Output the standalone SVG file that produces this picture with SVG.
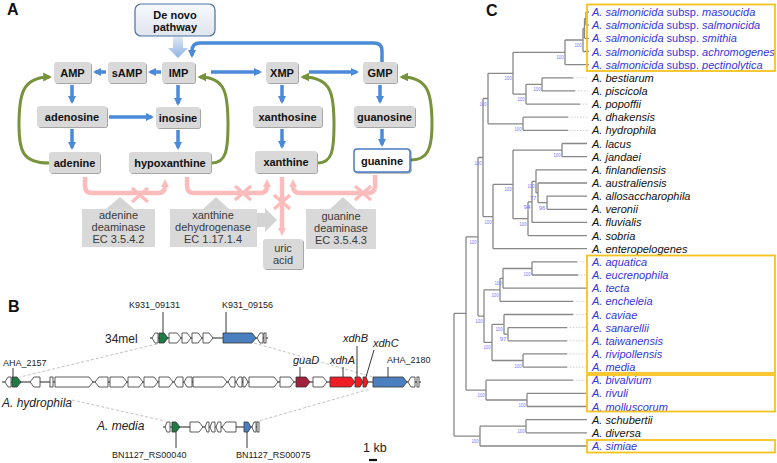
<svg xmlns="http://www.w3.org/2000/svg" width="777" height="463" viewBox="0 0 777 463">
<defs>
<style>
.pb{fill:#d9d9d9;filter:url(#sh)}
.pt{font:bold 11px "Liberation Sans",Arial,sans-serif;text-anchor:middle;fill:#111}
.et{font:11px "Liberation Sans",Arial,sans-serif;text-anchor:middle;fill:#3a3a3a}
.eb{fill:#d9d9d9}
.ea{fill:#d4d4d4}
.ba{stroke:#4a8ad8;stroke-width:3.5;fill:none;marker-end:url(#ab)}
.ga{stroke:#77933c;stroke-width:3;fill:none;marker-end:url(#ag)}
.pa{stroke:#fdbcbc;stroke-width:4.5;fill:none;marker-end:url(#ap)}
.px{stroke:#fdbcbc;stroke-width:3.5;fill:none}
.gn{stroke:#333;stroke-width:0.8;fill:#fff}
.gg{fill:#1f7a45}
.gb{fill:#4a7fc0}
.gd{fill:#a3213a}
.gr{fill:#f01c24}
.bb{stroke:#222;stroke-width:1;fill:none}
.ll{stroke:#222;stroke-width:0.9;fill:none}
.dl{stroke:#bbb;stroke-width:0.9;stroke-dasharray:3 2;fill:none}
.gl{font:9px "Liberation Sans",Arial,sans-serif;fill:#222}
.gi{font:italic 11px "Liberation Sans",Arial,sans-serif;fill:#222}
.tr{stroke:#888;stroke-width:1.3;fill:none}
.td{stroke:#d0d0d0;stroke-width:1;stroke-dasharray:1.5 1.5;fill:none}
.bs{font:6px "Liberation Sans",Arial,sans-serif;fill:#7777ff;text-anchor:middle}
.lf{font:italic 11px "Liberation Sans",Arial,sans-serif;fill:#111}
.lb{fill:#3535d8}
.nu{font-style:normal}
.yb{fill:none;stroke:#f8c21c;stroke-width:1.8}
.pl{font:bold 16px "Liberation Sans",Arial,sans-serif;fill:#111}
</style>
<filter id="sh" x="-10%" y="-10%" width="130%" height="140%"><feDropShadow dx="1" dy="1" stdDeviation="0.7" flood-color="#000" flood-opacity="0.35"/></filter>
<linearGradient id="dn" x1="0" y1="0" x2="0" y2="1"><stop offset="0" stop-color="#f7f9fc"/><stop offset="1" stop-color="#dfe5ee"/></linearGradient>
<linearGradient id="da" x1="0" y1="0" x2="0" y2="1"><stop offset="0" stop-color="#dfe8f5"/><stop offset="1" stop-color="#8fb2e0"/></linearGradient>
<marker id="ab" viewBox="0 0 10 10" refX="7" refY="5" markerWidth="8" markerHeight="9" orient="auto" markerUnits="userSpaceOnUse"><path d="M0 0L10 5L0 10z" fill="#4a8ad8"/></marker>
<marker id="ag" viewBox="0 0 10 10" refX="7" refY="5" markerWidth="9" markerHeight="10" orient="auto" markerUnits="userSpaceOnUse"><path d="M0 0L10 5L0 10z" fill="#77933c"/></marker>
<marker id="ap" viewBox="0 0 10 10" refX="5" refY="5" markerWidth="8" markerHeight="9" orient="auto" markerUnits="userSpaceOnUse"><path d="M0 0L10 5L0 10z" fill="#fdbcbc"/></marker>
</defs>
<rect width="777" height="463" fill="#fff"/>

<!-- Panel A -->
<text class="pl" x="7" y="15">A</text>
<g id="connectors-A">
<path d="M173 37H183V48H188L178 58L168 48H173z" fill="url(#da)"/>
<path class="ba" d="M161 72H150.4"/>
<path class="ba" d="M106 72H95.4"/>
<path class="ba" d="M72 85V101.6"/>
<path class="ba" d="M178 85V103.6"/>
<path class="ba" d="M109 117H151.6"/>
<path class="ba" d="M72 129V147.6"/>
<path class="ba" d="M178 130V147.6"/>
<path class="ba" d="M211 72H259.6"/>
<path class="ba" d="M309 72H356.6"/>
<path class="ba" d="M282 85V101.6"/>
<path class="ba" d="M380 85V101.6"/>
<path class="ba" d="M282 129V146.6"/>
<path class="ba" d="M382 129V144.6"/>
<path class="ba" d="M382 62V51Q382 43 374 43H200Q192 43 192 51V55.6"/>
<path class="ga" d="M49 163C22 163 19 150 19 125C19 95 22 77 49.5 77"/>
<path class="ga" d="M212 163C226 163 228 150 228 125C228 95 226 77 200 77"/>
<path class="ga" d="M318 163C332 163 334 150 334 125C334 95 332 77 303 77"/>
<path class="ga" d="M411 160C428 160 432 148 432 125C432 95 429 77 402 77"/>
<path class="pa" d="M85 177V186Q85 193 92 193H158Q165 193 165 186V183"/>
<path class="pa" d="M187 177V186Q187 193 194 193H260Q267 193 267 186V183"/>
<path class="pa" d="M375 175V186Q375 193 368 193H300Q293 193 293 186V183"/>
<path class="pa" d="M282 177V232"/>
<path class="px" d="M132 188L148 202M148 188L132 202"/>
<path class="px" d="M235 186L251 200M251 186L235 200"/>
<path class="px" d="M355 186L371 200M371 186L355 200"/>
<path class="px" d="M274 195L290 209M290 195L274 209"/>
<polygon class="ea" points="106,209 120,197 134,209"/>
<polygon class="ea" points="203,209 216,197 229,209"/>
<polygon class="ea" points="330,209 343,197 356,209"/>
<polygon class="ea" points="257,213 265,213 265,208 277,220 265,232 265,227 257,227"/>
</g>
<g id="n-denovo"><rect x="135" y="4" width="80" height="32" rx="6" fill="url(#dn)" stroke="#4a6fa5" stroke-width="1.2"/><text class="pt" x="175" y="18.5">De novo</text><text class="pt" x="175" y="30.5">pathway</text></g>
<g id="n-AMP"><rect class="pb" x="54" y="62" width="37" height="21" rx="3"/><text class="pt" x="72.5" y="76.5">AMP</text></g>
<g id="n-sAMP"><rect class="pb" x="108" y="62" width="38" height="21" rx="3"/><text class="pt" x="127" y="76.5">sAMP</text></g>
<g id="n-IMP"><rect class="pb" x="162" y="62" width="33" height="21" rx="3"/><text class="pt" x="178.5" y="76.5">IMP</text></g>
<g id="n-XMP"><rect class="pb" x="266" y="62" width="32" height="21" rx="3"/><text class="pt" x="282" y="76.5">XMP</text></g>
<g id="n-GMP"><rect class="pb" x="363" y="62" width="34" height="21" rx="3"/><text class="pt" x="380" y="76.5">GMP</text></g>
<g id="n-adenosine"><rect class="pb" x="37" y="106" width="70" height="21" rx="3"/><text class="pt" x="72" y="120.5">adenosine</text></g>
<g id="n-inosine"><rect class="pb" x="156" y="107" width="44" height="21" rx="3"/><text class="pt" x="178" y="121.5">inosine</text></g>
<g id="n-xanthosine"><rect class="pb" x="253" y="106" width="69" height="21" rx="3"/><text class="pt" x="287.5" y="120.5">xanthosine</text></g>
<g id="n-guanosine"><rect class="pb" x="354" y="106" width="61" height="21" rx="3"/><text class="pt" x="384.5" y="120.5">guanosine</text></g>
<g id="n-adenine"><rect class="pb" x="49" y="152" width="51" height="21" rx="3"/><text class="pt" x="74.5" y="166.5">adenine</text></g>
<g id="n-hypoxanthine"><rect class="pb" x="129" y="152" width="82" height="21" rx="3"/><text class="pt" x="170" y="166.5">hypoxanthine</text></g>
<g id="n-xanthine"><rect class="pb" x="255" y="151" width="62" height="22" rx="3"/><text class="pt" x="286" y="166">xanthine</text></g>
<g id="n-guanine"><rect x="354" y="149" width="56" height="23" rx="3" fill="#fff" stroke="#4a7bc0" stroke-width="1.5" filter="url(#sh)"/><text class="pt" x="382" y="164.5">guanine</text></g>
<g id="n-ada"><rect class="eb" x="82" y="209" width="73" height="38"/><text class="et" x="118.5" y="219">adenine</text><text class="et" x="118.5" y="231">deaminase</text><text class="et" x="118.5" y="243">EC 3.5.4.2</text></g>
<g id="n-xdh"><rect class="eb" x="170" y="209" width="87" height="38"/><text class="et" x="213" y="219">xanthine</text><text class="et" x="213" y="231">dehydrogenase</text><text class="et" x="213" y="243">EC 1.17.1.4</text></g>
<g id="n-gda"><rect class="eb" x="306" y="209" width="70" height="40"/><text class="et" x="341" y="219.5">guanine</text><text class="et" x="341" y="231.5">deaminase</text><text class="et" x="341" y="243.5">EC 3.5.4.3</text></g>
<g id="n-uric"><rect x="263" y="239" width="40" height="30" rx="3" fill="#d9d9d9" filter="url(#sh)"/><text class="et" x="283" y="252">uric</text><text class="et" x="283" y="264">acid</text></g>

<!-- Panel B -->
<text class="pl" x="8" y="312">B</text>
<g id="connectors-B">
<path class="dl" d="M157 344L20 377M254 343L373 377M72 400L165 421M255 422L370 389"/>
<path class="ll" d="M163 312V333M226 312V333M13 368V377M300 367V377M343 367V377M357 346V377M374 350L366 377M388 367V377M176 432V448M247 432V448"/>
<path d="M369 460H377" stroke="#111" stroke-width="2.2"/>
</g>
<g id="row-34mel">
<path class="bb" d="M150 338H268"/>
<polygon class="gn" points="158,333 155,333 152,338 155,343 158,343"/>
<polygon class="gn gg" points="159,333 164,333 168,338 164,343 159,343"/>
<polygon class="gn" points="169,333 177,333 181,338 177,343 169,343"/>
<polygon class="gn" points="182,333 187,333 191,338 187,343 182,343"/>
<polygon class="gn" points="192,333 198,333 202,338 198,343 192,343"/>
<polygon class="gn" points="203,333 209,333 213,338 209,343 203,343"/>
<polygon class="gn gb" points="223,333 252,333 256,338 252,343 223,343"/>
<polygon class="gn" points="263,333 260,333 257,338 260,343 263,343"/>
<rect class="gn" x="264" y="333" width="2" height="10"/>
<text class="gl" x="129" y="308">K931_09131</text>
<text class="gl" x="222" y="308">K931_09156</text>
<text x="105" y="343" style="font:12px 'Liberation Sans',Arial,sans-serif;fill:#222">34mel</text>
</g>
<g id="row-hydrophila">
<path class="bb" d="M2 382H421"/>
<polygon class="gn" points="11,377 8,377 5,382 8,387 11,387"/>
<polygon class="gn gg" points="12,377 17,377 21,382 17,387 12,387"/>
<polygon class="gn" points="40,377 34,377 30,382 34,387 40,387"/>
<rect class="gn" x="50" y="377" width="3" height="10"/>
<polygon class="gn" points="55,377 89,377 93,382 89,387 55,387"/>
<polygon class="gn" points="108,377 99,377 95,382 99,387 108,387"/>
<polygon class="gn" points="110,377 123,377 127,382 123,387 110,387"/>
<polygon class="gn" points="128,377 139,377 143,382 139,387 128,387"/>
<polygon class="gn" points="144,377 154,377 158,382 154,387 144,387"/>
<polygon class="gn" points="159,377 169,377 173,382 169,387 159,387"/>
<polygon class="gn" points="183,377 177,377 174,382 177,387 183,387"/>
<polygon class="gn" points="192,377 187,377 184,382 187,387 192,387"/>
<polygon class="gn" points="193,377 223,377 227,382 223,387 193,387"/>
<polygon class="gn" points="235,377 231,377 228,382 231,387 235,387"/>
<polygon class="gn" points="242,377 239,377 236,382 239,387 242,387"/>
<polygon class="gn" points="243,377 245,377 248,382 245,387 243,387"/>
<polygon class="gn" points="249,377 274,377 278,382 274,387 249,387"/>
<polygon class="gn" points="280,377 290,377 294,382 290,387 280,387"/>
<polygon class="gn gd" points="296,377 306,377 310,382 306,387 296,387"/>
<polygon class="gn" points="313,377 323,377 327,382 323,387 313,387"/>
<polygon class="gn gr" points="330,377 351,377 355,382 351,387 330,387"/>
<polygon class="gn gr" points="355,377 360,377 363,382 360,387 355,387"/>
<polygon class="gn gr" points="363,377 366,377 368,382 366,387 363,387"/>
<polygon class="gn gb" points="373,377 403,377 407,382 403,387 373,387"/>
<polygon class="gn" points="415,377 411,377 408,382 411,387 415,387"/>
<rect class="gn" x="417" y="377" width="2" height="10"/>
<text class="gl" x="3" y="366">AHA_2157</text>
<text class="gi" x="293" y="364">guaD</text>
<text class="gi" x="330" y="364">xdhA</text>
<text class="gi" x="343" y="342">xdhB</text>
<text class="gi" x="373" y="347">xdhC</text>
<text class="gl" x="387" y="363">AHA_2180</text>
<text x="2" y="407" style="font:italic 12px 'Liberation Sans',Arial,sans-serif;fill:#222">A. hydrophila</text>
</g>
<g id="row-media">
<path class="bb" d="M163 427H259"/>
<polygon class="gn" points="170,422 167,422 165,427 167,432 170,432"/>
<polygon class="gn gg" points="172,422 176,422 180,427 176,432 172,432"/>
<polygon class="gn" points="190,422 199,422 203,427 199,432 190,432"/>
<polygon class="gn" points="209,422 207,422 205,427 207,432 209,432"/>
<polygon class="gn" points="215,422 212,422 210,427 212,432 215,432"/>
<polygon class="gn" points="221,422 218,422 216,427 218,432 221,432"/>
<polygon class="gn" points="236,422 226,422 222,427 226,432 236,432"/>
<polygon class="gn gb" points="244,422 248,422 251,427 248,432 244,432"/>
<polygon class="gn" points="256,422 254,422 252,427 254,432 256,432"/>
<rect class="gn" x="257" y="422" width="2" height="10"/>
<text x="97" y="430" style="font:italic 12px 'Liberation Sans',Arial,sans-serif;fill:#222">A. media</text>
<text class="gl" x="112" y="458">BN1127_RS00040</text>
<text class="gl" x="236" y="458">BN1127_RS00075</text>
<text x="363" y="452" style="font:12.5px 'Liberation Sans',Arial,sans-serif;fill:#222">1 kb</text>
</g>

<!-- Panel C -->
<text class="pl" x="486" y="16">C</text>
<g id="tree">
<path class="td" d="M573 77.8H588M575 90.9H588M580 104.1H588M568 117.2H588M568 130.4H588M577 261.9H588M578 275H588M573 301.3H588M573 314.5H588M567 327.6H588M567 340.8H588M567 353.9H588M567 367.1H588M573 380.2H588"/>
<path class="tr" d="M586 12H589M586 25.2H589M584.5 38.3H589M583 51.5H589M565 64.6H589M542 77.8H573M542 90.9H575M526 104.1H580M523 117.2H568M523 130.4H568M562 143.5H587M562 156.7H587M536 169.8H587M538 183H587M547 196.1H587M547 209.3H587M532 222.4H587M528 235.6H587M493 248.7H587M532 261.9H577M532 275H578M503 288.2H587M500 301.3H573M504 314.5H573M508 327.6H567M508 340.8H567M523 353.9H567M523 367.1H567M486 380.2H573M527 393.4H587M527 406.5H587M526 419.7H587M526 432.8H587M480 446H587"/>
<path class="tr" d="M586 12V25.2M584.5 18.6H586M584.5 18.6V38.3M583 28.5H584.5M583 28.5V51.5M565 40H583M565 40V64.6M513 52.3H565M542 77.8V90.9M526 84.3H542M526 84.3V104.1M513 94.2H526M513 52.3V94.2M488 73.3H513M523 117.2V130.4M488 123.8H523M488 73.3V123.8M483 98.5H488M562 143.5V156.7M513 150.1H562M547 196.1V209.3M538 202.7H547M538 183V202.7M536 192.9H538M536 169.8V192.9M532 181.3H536M532 181.3V222.4M528 201.9H532M528 201.9V235.6M513 218.7H528M513 150.1V218.7M493 184.4H513M493 184.4V248.7M483 216.6H493M483 98.5V216.6M478 157.5H483M532 261.9V275M503 268.5H532M503 268.5V288.2M500 278.3H503M500 278.3V301.3M484 289.8H500M508 327.6V340.8M504 334.2H508M504 314.5V334.2M492 324.3H504M523 353.9V367.1M492 360.5H523M492 324.3V360.5M484 342.4H492M484 289.8V342.4M478 316.1H484M478 157.5V316.1M466 236.8H478M527 393.4V406.5M486 400H527M486 380.2V400M466 390.1H486M466 236.8V390.1M454 313.4H466M526 419.7V432.8M480 426.2H526M480 426.2V446M454 436.1H480M454 313.4V436.1"/>
<g class="bs">
<text x="578" y="47" textLength="7" lengthAdjust="spacingAndGlyphs">100</text>
<text x="560" y="59" textLength="7" lengthAdjust="spacingAndGlyphs">100</text>
<text x="508" y="80" textLength="7" lengthAdjust="spacingAndGlyphs">100</text>
<text x="537" y="91" textLength="7" lengthAdjust="spacingAndGlyphs">100</text>
<text x="521" y="101" textLength="7" lengthAdjust="spacingAndGlyphs">100</text>
<text x="483" y="105.5" textLength="7" lengthAdjust="spacingAndGlyphs">100</text>
<text x="518" y="131" textLength="7" lengthAdjust="spacingAndGlyphs">100</text>
<text x="557" y="157" textLength="7" lengthAdjust="spacingAndGlyphs">100</text>
<text x="478" y="164.5" textLength="7" lengthAdjust="spacingAndGlyphs">100</text>
<text x="508" y="191" textLength="7" lengthAdjust="spacingAndGlyphs">100</text>
<text x="531" y="188" textLength="7" lengthAdjust="spacingAndGlyphs">100</text>
<text x="533" y="200">77</text>
<text x="542" y="209.7">96</text>
<text x="527" y="209">94</text>
<text x="523" y="225.7" textLength="7" lengthAdjust="spacingAndGlyphs">100</text>
<text x="488" y="223.6" textLength="7" lengthAdjust="spacingAndGlyphs">100</text>
<text x="473" y="243.8" textLength="7" lengthAdjust="spacingAndGlyphs">100</text>
<text x="527" y="275.5" textLength="7" lengthAdjust="spacingAndGlyphs">100</text>
<text x="498" y="285.3" textLength="7" lengthAdjust="spacingAndGlyphs">100</text>
<text x="495" y="296.8" textLength="7" lengthAdjust="spacingAndGlyphs">100</text>
<text x="499" y="331.3" textLength="7" lengthAdjust="spacingAndGlyphs">100</text>
<text x="503" y="341.2">97</text>
<text x="479" y="323" textLength="7" lengthAdjust="spacingAndGlyphs">100</text>
<text x="487" y="349.4" textLength="7" lengthAdjust="spacingAndGlyphs">100</text>
<text x="518" y="367.5" textLength="7" lengthAdjust="spacingAndGlyphs">100</text>
<text x="481" y="397" textLength="7" lengthAdjust="spacingAndGlyphs">100</text>
<text x="522" y="407" textLength="7" lengthAdjust="spacingAndGlyphs">100</text>
<text x="521" y="433" textLength="7" lengthAdjust="spacingAndGlyphs">100</text>
<text x="475" y="443" textLength="7" lengthAdjust="spacingAndGlyphs">100</text>
</g>
</g>
<g id="leaves" class="lf">
<text class="lb" x="592" y="16">A. salmonicida<tspan class="nu"> subsp. </tspan>masoucida</text>
<text class="lb" x="592" y="29.2">A. salmonicida<tspan class="nu"> subsp. </tspan>salmonicida</text>
<text class="lb" x="592" y="42.3">A. salmonicida<tspan class="nu"> subsp. </tspan>smithia</text>
<text class="lb" x="592" y="55.5">A. salmonicida<tspan class="nu"> subsp. </tspan>achromogenes</text>
<text class="lb" x="592" y="68.6">A. salmonicida<tspan class="nu"> subsp. </tspan>pectinolytica</text>
<text x="592" y="81.8">A. bestiarum</text>
<text x="592" y="94.9">A. piscicola</text>
<text x="592" y="108.1">A. popoffii</text>
<text x="592" y="121.2">A. dhakensis</text>
<text x="592" y="134.4">A. hydrophila</text>
<text x="592" y="147.5">A. lacus</text>
<text x="592" y="160.7">A. jandaei</text>
<text x="592" y="173.8">A. finlandiensis</text>
<text x="592" y="187">A. australiensis</text>
<text x="592" y="200.1">A. allosaccharophila</text>
<text x="592" y="213.3">A. veronii</text>
<text x="592" y="226.4">A. fluvialis</text>
<text x="592" y="239.6">A. sobria</text>
<text x="592" y="252.7">A. enteropelogenes</text>
<text class="lb" x="592" y="265.9">A. aquatica</text>
<text class="lb" x="592" y="279">A. eucrenophila</text>
<text class="lb" x="592" y="292.2">A. tecta</text>
<text class="lb" x="592" y="305.3">A. encheleia</text>
<text class="lb" x="592" y="318.5">A. caviae</text>
<text class="lb" x="592" y="331.6">A. sanarellii</text>
<text class="lb" x="592" y="344.8">A. taiwanensis</text>
<text class="lb" x="592" y="357.9">A. rivipollensis</text>
<text class="lb" x="592" y="371.1">A. media</text>
<text class="lb" x="592" y="384.2">A. bivalvium</text>
<text class="lb" x="592" y="397.4">A. rivuli</text>
<text class="lb" x="592" y="410.5">A. molluscorum</text>
<text x="592" y="423.7">A. schubertii</text>
<text x="592" y="436.8">A. diversa</text>
<text class="lb" x="592" y="450">A. simiae</text>
</g>
<g id="highlight-boxes">
<rect class="yb" x="587" y="4.5" width="188" height="66.5"/>
<rect class="yb" x="587" y="255.5" width="188" height="117.5"/>
<rect class="yb" x="587" y="375" width="188" height="36.5"/>
<rect class="yb" x="587" y="440" width="188" height="12.5"/>
</g>
</svg>
